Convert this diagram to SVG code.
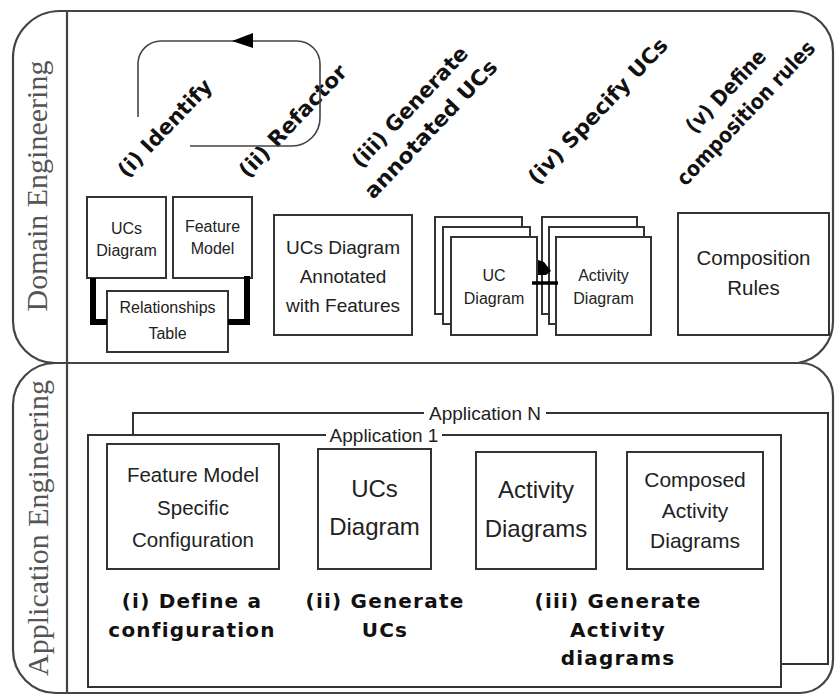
<svg xmlns="http://www.w3.org/2000/svg" width="835" height="695" viewBox="0 0 835 695">
<style>
.panel{fill:none;stroke:#444;stroke-width:2.2}
.box{fill:#fff;stroke:#333;stroke-width:2}
.frame{fill:none;stroke:#333;stroke-width:2}
.lbl{font-family:"Liberation Sans",Arial,sans-serif;fill:#222;text-anchor:middle}
.step{font-family:"DejaVu Sans",Verdana,sans-serif;font-weight:bold;fill:#111;text-anchor:middle;font-size:21px}
.bstep{font-family:"DejaVu Sans",Verdana,sans-serif;font-weight:bold;fill:#111;text-anchor:middle;font-size:20px;letter-spacing:1.2px}
.lane{font-family:"Liberation Serif","Times New Roman",serif;font-size:30px;fill:#555;text-anchor:middle}
.thick{fill:none;stroke:#000;stroke-width:6}
.loop{fill:none;stroke:#444;stroke-width:1.6}
</style>
<rect width="835" height="695" fill="#fff"/>

<g id="domain-panel">
<path class="panel" d="M60 11 H793 A40 40 0 0 1 833 51 V321 A42 42 0 0 1 798 363 H55 A42 42 0 0 1 13 321 V58 A47 47 0 0 1 60 11 Z"/>
<text class="lane" transform="translate(47 186) rotate(-90)">Domain Engineering</text>
</g>
<g id="application-panel">
<path class="panel" d="M55 363 H800 A33 33 0 0 1 833 396 V660 A33 33 0 0 1 800 693 H56 A43 43 0 0 1 13 650 V405 A42 42 0 0 1 55 363 Z"/>
<text class="lane" transform="translate(48 528) rotate(-90)">Application Engineering</text>
</g>
<line x1="67" y1="11" x2="67" y2="693" stroke="#444" stroke-width="2.2"/>

<g id="step-labels-domain">
<text class="step" transform="translate(170 133) rotate(-46.5)" textLength="126" lengthAdjust="spacingAndGlyphs">(i) Identify</text>
<text class="step" transform="translate(298 126) rotate(-46.5)" textLength="146" lengthAdjust="spacingAndGlyphs">(ii) Refactor</text>
<text class="step" transform="translate(415 112) rotate(-46.5)" textLength="158" lengthAdjust="spacingAndGlyphs">(iii) Generate</text>
<text class="step" transform="translate(436 134) rotate(-46.5)" textLength="182" lengthAdjust="spacingAndGlyphs">annotated UCs</text>
<text class="step" transform="translate(603 116) rotate(-46.5)" textLength="192" lengthAdjust="spacingAndGlyphs">(iv) Specify UCs</text>
<text class="step" transform="translate(731 96) rotate(-46.5)" textLength="106" lengthAdjust="spacingAndGlyphs">(v) Define</text>
<text class="step" transform="translate(751 118) rotate(-46.5)" textLength="190" lengthAdjust="spacingAndGlyphs">composition rules</text>
</g>

<g id="ucs-diagram">
<rect class="box" x="87" y="197" width="79" height="81"/>
<text class="lbl" font-size="16" x="126.5" y="234">UCs</text>
<text class="lbl" font-size="16" x="126.5" y="256">Diagram</text>
</g>
<g id="feature-model">
<rect class="box" x="173" y="197" width="79" height="81"/>
<text class="lbl" font-size="16" x="212.5" y="232">Feature</text>
<text class="lbl" font-size="16" x="212.5" y="254">Model</text>
</g>
<g id="relationships-table">
<rect class="box" x="107" y="291" width="121" height="61"/>
<text class="lbl" font-size="16" x="167.5" y="313">Relationships</text>
<text class="lbl" font-size="16" x="167.5" y="339">Table</text>
</g>
<g id="ucs-annotated">
<rect class="box" x="274" y="215" width="138" height="120"/>
<text class="lbl" font-size="19" x="343" y="254">UCs Diagram</text>
<text class="lbl" font-size="19" x="343" y="283">Annotated</text>
<text class="lbl" font-size="19" x="343" y="312">with Features</text>
</g>
<g id="uc-diagram-stack">
<rect class="box" x="435" y="217" width="87" height="97"/>
<rect class="box" x="443" y="227" width="87" height="97"/>
<rect class="box" x="451" y="237" width="86" height="98"/>
<text class="lbl" font-size="16" x="494" y="281">UC</text>
<text class="lbl" font-size="16" x="494" y="304">Diagram</text>
</g>
<g id="activity-diagram-stack">
<rect class="box" x="542" y="217" width="95" height="97"/>
<rect class="box" x="549" y="227" width="95" height="97"/>
<rect class="box" x="556" y="237" width="95" height="98"/>
<text class="lbl" font-size="16" x="603.5" y="281">Activity</text>
<text class="lbl" font-size="16" x="603.5" y="304">Diagram</text>
</g>
<g id="composition-rules">
<rect class="box" x="678" y="213" width="151" height="122"/>
<text class="lbl" font-size="20.5" x="753.5" y="265">Composition</text>
<text class="lbl" font-size="20.5" x="753.5" y="295">Rules</text>
</g>

<g id="application-n">
<path class="frame" d="M133 435 V413 H424 M546 413 H828 V664 H781"/>
<text class="lbl" font-size="19" x="485" y="419.5">Application N</text>
</g>
<g id="application-1">
<path class="frame" d="M326 435 H88 V687 H781 V435 H442"/>
<text class="lbl" font-size="19" x="384" y="441.5">Application 1</text>
</g>

<g id="fm-config">
<rect class="box" x="107" y="444" width="172" height="125"/>
<text class="lbl" font-size="20.5" x="193" y="482">Feature Model</text>
<text class="lbl" font-size="20.5" x="193" y="515">Specific</text>
<text class="lbl" font-size="20.5" x="193" y="547">Configuration</text>
</g>
<g id="app-ucs-diagram">
<rect class="box" x="318" y="449" width="113" height="120"/>
<text class="lbl" font-size="24" x="374.5" y="497">UCs</text>
<text class="lbl" font-size="24" x="374.5" y="535">Diagram</text>
</g>
<g id="app-activity-diagrams">
<rect class="box" x="476" y="452" width="120" height="117"/>
<text class="lbl" font-size="24" x="536" y="498">Activity</text>
<text class="lbl" font-size="24" x="536" y="537">Diagrams</text>
</g>
<g id="composed-activity-diagrams">
<rect class="box" x="627" y="452" width="136" height="117"/>
<text class="lbl" font-size="21" x="695" y="487">Composed</text>
<text class="lbl" font-size="21" x="695" y="518">Activity</text>
<text class="lbl" font-size="21" x="695" y="548">Diagrams</text>
</g>

<g id="step-labels-application">
<text class="bstep" x="192" y="608">(i) Define a</text>
<text class="bstep" x="192" y="637">configuration</text>
<text class="bstep" x="385" y="608">(ii) Generate</text>
<text class="bstep" x="385" y="637">UCs</text>
<text class="bstep" x="618" y="608">(iii) Generate</text>
<text class="bstep" x="618" y="637">Activity</text>
<text class="bstep" x="618" y="665">diagrams</text>
</g>

<g id="connectors">
<path class="loop" d="M138 117 V63 A23 23 0 0 1 161 41 H297 A23 23 0 0 1 320 64 V118 A28 28 0 0 1 292 146 H190"/>
<polygon points="232,41 253,33 253,48" fill="#000"/>
<path class="thick" d="M93 278 V322 H107"/>
<path class="thick" d="M247 276 V322 H228"/>
<polygon points="538,260 544,262 551,271 546,275 538,275" fill="#000"/>
<line x1="532" y1="283" x2="558" y2="283" stroke="#000" stroke-width="3.5"/>
</g>
</svg>
